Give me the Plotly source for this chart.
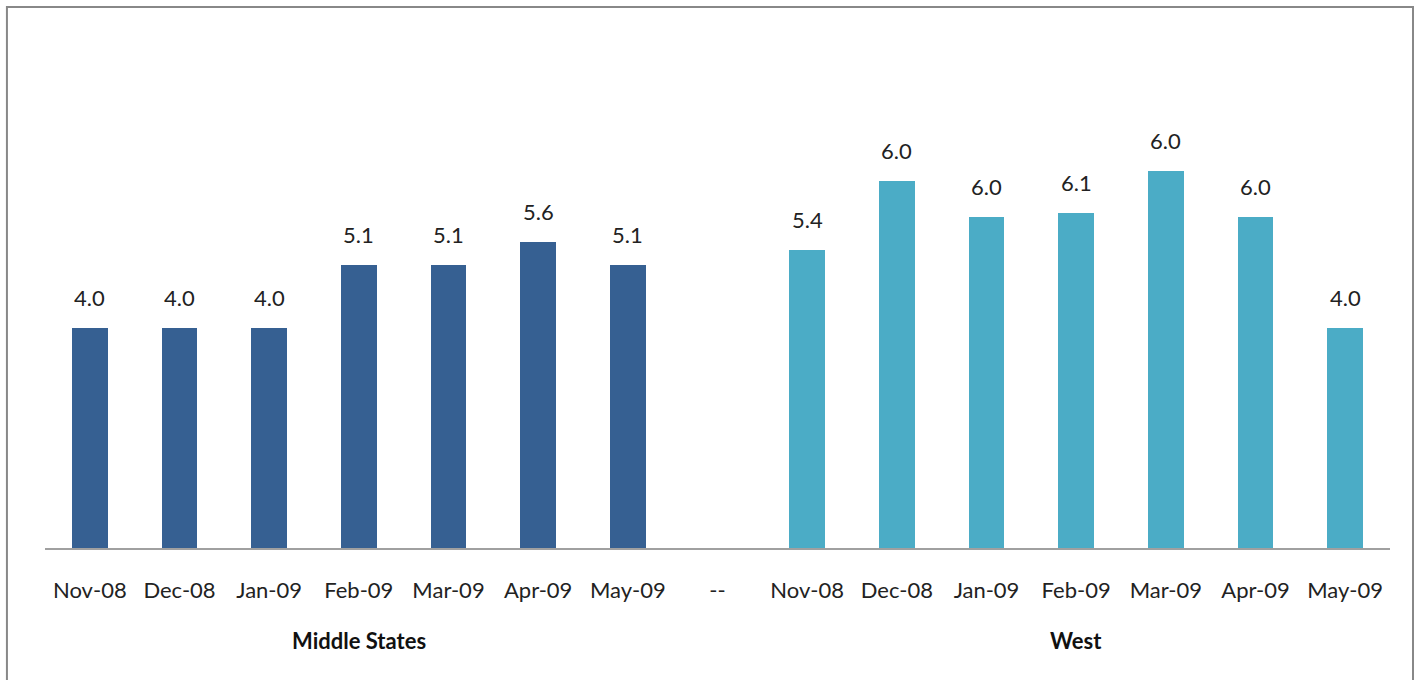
import plotly.graph_objects as go

months = ["Nov-08", "Dec-08", "Jan-09", "Feb-09", "Mar-09", "Apr-09", "May-09"]
groups = ["Middle States", "West"]
middle_heights = [4.0, 4.0, 4.0, 5.15, 5.15, 5.56, 5.15]
middle_labels = ["4.0", "4.0", "4.0", "5.1", "5.1", "5.6", "5.1"]
west_heights = [5.42, 6.67, 6.02, 6.09, 6.85, 6.02, 4.0]
west_labels = ["5.4", "6.0", "6.0", "6.1", "6.0", "6.0", "4.0"]
separator = "--"

FONT = "Lato, 'Open Sans', sans-serif"
ticktext = months + [separator] + months
x_mid = list(range(len(months)))
x_west = [len(months) + 1 + i for i in range(len(months))]

fig = go.Figure()
for xs, ys, labels, color, name in [
    (x_mid, middle_heights, middle_labels, "#366092", groups[0]),
    (x_west, west_heights, west_labels, "#4BACC6", groups[1]),
]:
    fig.add_trace(go.Bar(
        x=xs, y=ys, marker=dict(color=color, line=dict(width=0)),
        width=0.4, name=name,
    ))
    # value labels sit a bit above each bar
    for x, y, t in zip(xs, ys, labels):
        fig.add_annotation(
            x=x, y=y, text=t, showarrow=False, yanchor="bottom", yshift=15,
            font=dict(size=22, color="#222222", family=FONT),
        )

n = len(ticktext)
fig.update_xaxes(
    range=[-0.5, n - 0.5], tickvals=list(range(n)), ticktext=ticktext,
    showline=True, linecolor="#A0A0A0", linewidth=2, ticks="",
    showgrid=False, zeroline=False, ticklabelstandoff=22,
    tickfont=dict(size=22, color="#222222", family=FONT), fixedrange=True,
)
fig.update_yaxes(range=[0, 9], visible=False, showgrid=False, zeroline=False)

# group labels centred under each block of months
for name, xs in zip(groups, [x_mid, x_west]):
    fig.add_annotation(
        x=sum(xs) / len(xs), xref="x", y=-0.186, yref="paper", yanchor="middle",
        text=f"<b>{name}</b>", showarrow=False,
        font=dict(size=22, color="#111111", family=FONT),
    )

# chart area border
fig.add_shape(type="rect", xref="paper", yref="paper",
              x0=-0.0283, x1=1.0171, y0=-0.3, y1=1.093,
              line=dict(color="#888888", width=2), layer="below")

fig.update_layout(
    width=1422, height=680, showlegend=False, bargap=0,
    margin=dict(l=45, r=32, t=53, b=132),
    plot_bgcolor="white", paper_bgcolor="white",
    font=dict(family=FONT),
)
fig.write_html("out.html", config={"displayModeBar": False},
               post_script="document.body.style.margin='0';")
